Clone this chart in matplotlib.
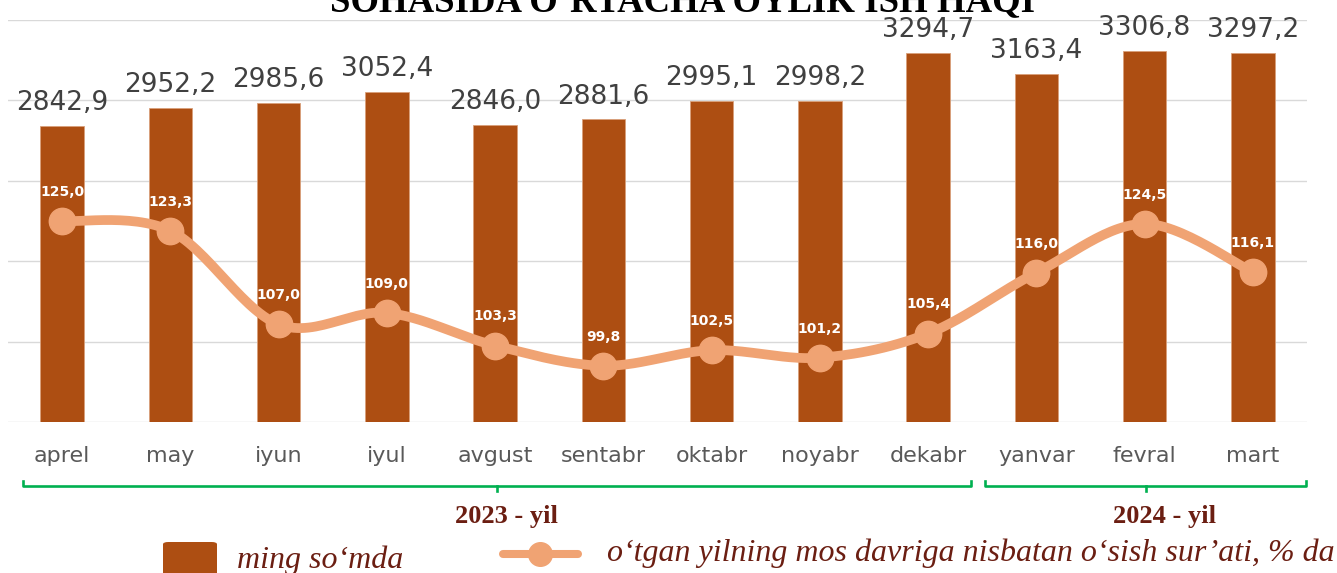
import numpy as np
import matplotlib
matplotlib.use("Agg")
import matplotlib.pyplot as plt
from matplotlib.patches import FancyBboxPatch
from matplotlib.lines import Line2D
import matplotlib.transforms as mtransforms

# ---- data ----
months = ["aprel", "may", "iyun", "iyul", "avgust", "sentabr", "oktabr",
          "noyabr", "dekabr", "yanvar", "fevral", "mart"]
wage = [2842.9, 2952.2, 2985.6, 3052.4, 2846.0, 2881.6, 2995.1,
        2998.2, 3294.7, 3163.4, 3306.8, 3297.2]
growth = [125.0, 123.3, 107.0, 109.0, 103.3, 99.8, 102.5,
          101.2, 105.4, 116.0, 124.5, 116.1]
year_labels = ["2023 - yil", "2024 - yil"]
year_spans = [(-0.36, 8.40), (8.53, 11.49)]
year_label_x = [4.10, 10.18]
title = "SOHASIDA O\u2018RTACHA OYLIK ISH HAQI"
legend_bar = "ming so\u2018mda"
legend_line = "o\u2018tgan yilning mos davriga nisbatan o\u2018sish sur\u2019ati, % da"

# ---- style ----
W, H = 1337, 573
BAR = "#AD4E12"
LINE = "#F0A373"
GRID = "#D9D9D9"
DARKRED = "#6B1E12"
GREEN = "#00B050"
SERIF = ["Liberation Serif", "DejaVu Serif"]


def fx(x):
    return x / W


def fy(y):
    return 1 - y / H


def fmt(v):
    return f"{v:.1f}".replace(".", ",")


fig = plt.figure(figsize=(W / 100, H / 100), dpi=100)
ax = fig.add_axes([fx(8), fy(422), (1307 - 8) / W, (422 - 20) / H])
x = np.arange(len(months))

ax.bar(x, wage, width=0.4, color=BAR, edgecolor="#D9A07A", linewidth=0.6, zorder=2)
ax.set_ylim(1000, 3500)
ax.set_yticks(np.arange(1000, 3501, 500))
ax.yaxis.grid(True, color=GRID, linewidth=1.0, zorder=0)
ax.set_axisbelow(True)
ax.set_xlim(-0.5, len(months) - 0.5)
ax.set_xticks(x)
ax.set_xticklabels(months, fontsize=16, color="#595959", family="DejaVu Sans")
ax.tick_params(axis="x", length=0, pad=17)
ax.tick_params(axis="y", length=0, labelleft=False)
for s in ax.spines.values():
    s.set_visible(False)

for xi, v in zip(x, wage):
    ax.annotate(fmt(v), (xi, v), xytext=(0, 7), textcoords="offset points",
                ha="center", va="bottom", fontsize=19, color="#404040")

# secondary axis for growth line
ax2 = ax.twinx()
ax2.set_ylim(90, 160)
ax2.set_yticks([])
for s in ax2.spines.values():
    s.set_visible(False)


def smooth(xs, ys, n=30):
    P = np.column_stack([xs, ys]).astype(float)
    P = np.vstack([P[0], P, P[-1]])
    out = []
    for i in range(1, len(P) - 2):
        p0, p1, p2, p3 = P[i - 1], P[i], P[i + 1], P[i + 2]
        c1 = p1 + (p2 - p0) / 6
        c2 = p2 - (p3 - p1) / 6
        t = np.linspace(0, 1, n)[:, None]
        seg = ((1 - t) ** 3) * p1 + 3 * ((1 - t) ** 2) * t * c1 + 3 * (1 - t) * t ** 2 * c2 + t ** 3 * p2
        out.append(seg if i == 1 else seg[1:])
    out = np.vstack(out)
    return out[:, 0], out[:, 1]


sx, sy = smooth(x, growth)
ax2.plot(sx, sy, color=LINE, linewidth=7, solid_capstyle="round", zorder=3)
ax2.plot(x, growth, "o", color=LINE, markersize=19, zorder=4)
for xi, v in zip(x, growth):
    ax2.annotate(fmt(v), (xi, v), xytext=(0, 21), textcoords="offset points",
                 ha="center", va="center", fontsize=10, fontweight="bold", color="white", zorder=5)

# year brackets
trans = mtransforms.blended_transform_factory(ax.transData, fig.transFigure)
for (a, b) in year_spans:
    m = (a + b) / 2
    ax.add_line(Line2D([a, a, b, b], [fy(481), fy(486), fy(486), fy(481)], transform=trans,
                       color=GREEN, linewidth=1.9, clip_on=False, solid_joinstyle="round"))
    ax.add_line(Line2D([m, m], [fy(486), fy(491)], transform=trans,
                       color=GREEN, linewidth=1.9, clip_on=False))
for lab, xl in zip(year_labels, year_label_x):
    ax.text(xl, fy(517), lab, transform=trans, ha="center", va="center",
            fontsize=19, fontweight="bold", family=SERIF, color=DARKRED)

# title (partly cut off at top)
fig.text(fx(682), fy(12), title, ha="center", va="baseline", fontsize=26.5,
         fontweight="bold", family=SERIF, color="black")

# legend
fig.add_artist(FancyBboxPatch((fx(163), fy(600)), fx(217) - fx(163), fy(542) - fy(600),
                              boxstyle="round,pad=0,rounding_size=0.004", transform=fig.transFigure,
                              facecolor=BAR, edgecolor="none"))
fig.text(fx(237), fy(568), legend_bar, ha="left", va="baseline", fontsize=23,
         style="italic", family=SERIF, color=DARKRED)
fig.add_artist(Line2D([fx(503), fx(578)], [fy(554), fy(554)], transform=fig.transFigure,
                      color=LINE, linewidth=5.8, solid_capstyle="round"))
fig.add_artist(Line2D([fx(540)], [fy(554)], transform=fig.transFigure, marker="o",
                      markersize=17, color=LINE, linestyle="none"))
fig.text(fx(607), fy(561), legend_line, ha="left", va="baseline", fontsize=23,
         style="italic", family=SERIF, color=DARKRED)

fig.savefig("out.png", dpi=100)
